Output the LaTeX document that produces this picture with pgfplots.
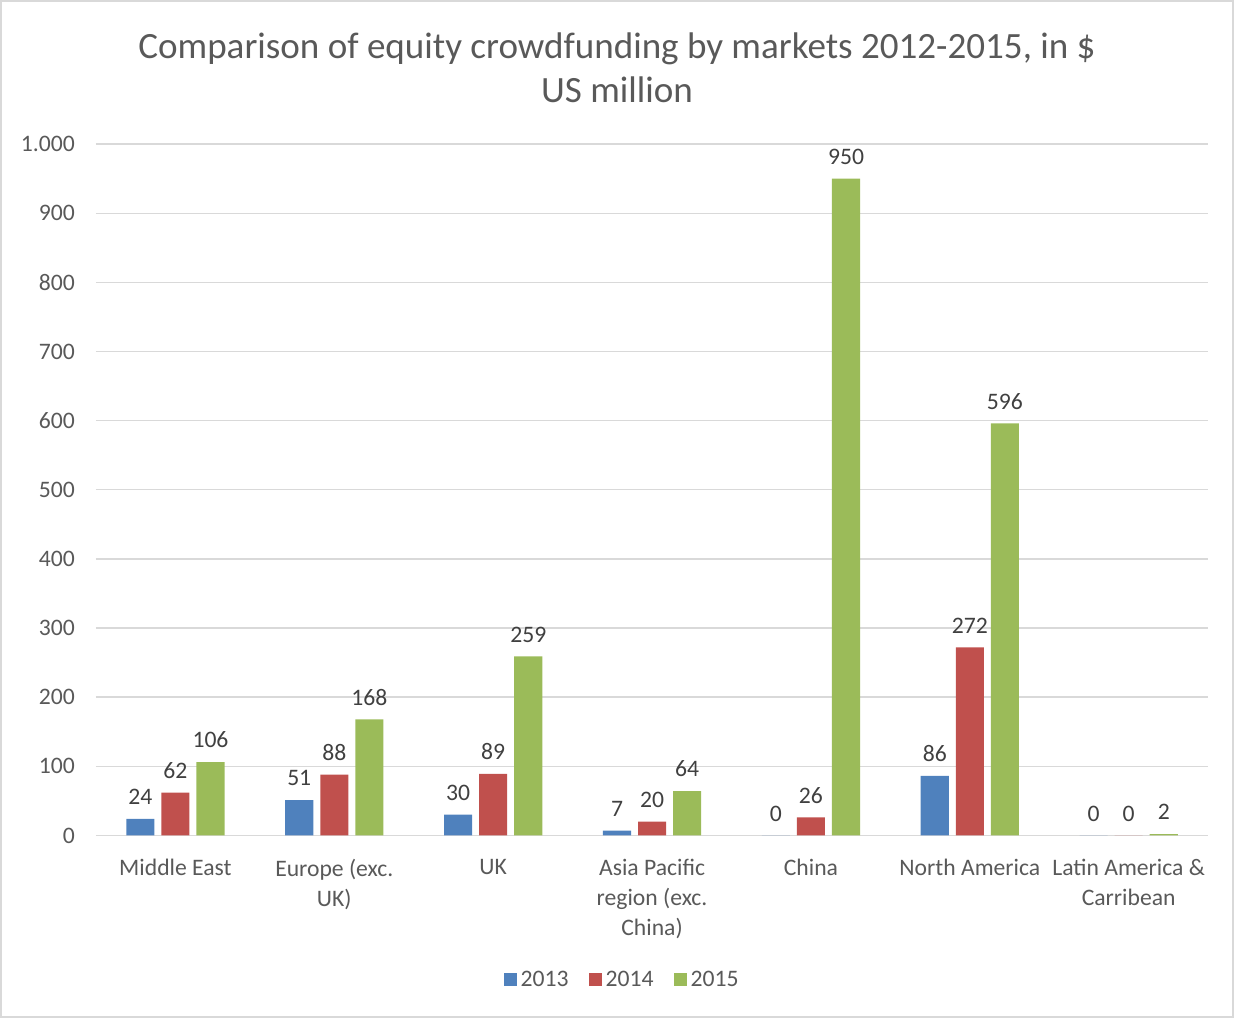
\documentclass[border=0pt]{standalone}
\usepackage{pgfplots}
\pgfplotsset{compat=1.18}
\usepackage{fontspec}
\setmainfont{Carlito}
\definecolor{b1}{HTML}{4F81BD}
\definecolor{r1}{HTML}{C0504D}
\definecolor{g1}{HTML}{9BBB59}
\definecolor{txt}{HTML}{595959}
\definecolor{lab}{HTML}{404040}
\definecolor{gridc}{HTML}{D9D9D9}
\begin{document}
\begin{tikzpicture}
\draw[gridc, line width=0.8pt] (-47.5pt,-90.5pt) rectangle (567.5pt,416.5pt);
\node[align=center, text=txt, font=\fontsize{18.5}{22}\selectfont] at (260pt,383pt)
  {Comparison of equity crowdfunding by markets 2012-2015, in \$\\US million};
\begin{axis}[
  scale only axis, width=555pt, height=345pt,
  ybar=3.5pt, bar width=14pt,
  xmin=-0.5, xmax=6.5, ymin=0, ymax=1000,
  xtick={0,1,2,3,4,5,6},
  xticklabels={Middle East, {Europe (exc.\\UK)}, UK, {Asia Pacific\\region (exc.\\China)}, China, North America, {Latin America \&\\Carribean}},
  xticklabel style={align=center, text=txt, font=\fontsize{11.8}{15}\selectfont, yshift=-4pt},
  ytick={0,100,...,1000},
  yticklabel style={text=txt, font=\fontsize{11.8}{14}\selectfont, xshift=-7pt},
  /pgf/number format/1000 sep={.},
  /pgf/number format/assume math mode=true,
  ymajorgrids, grid style={gridc, line width=0.7pt},
  axis x line*=bottom, axis y line*=left,
  y axis line style={draw=none},
  x axis line style={draw=gridc, line width=0.8pt},
  tick style={draw=none},
  nodes near coords,
  every node near coord/.append style={text=lab, font=\fontsize{11.8}{14}\selectfont, yshift=3.5pt},
  legend style={at={(0.474,-0.209)}, anchor=center, legend columns=-1, draw=none,
    font=\fontsize{11.8}{14}\selectfont, text=txt,
    /tikz/every even column/.append style={column sep=8pt}},
  legend image code/.code={\fill[#1,draw=none] (0pt,-3.2pt) rectangle (6.5pt,3.2pt);},
]
\addplot[fill=b1, draw=none] coordinates {(0,24) (1,51) (2,30) (3,7) (4,0) (5,86) (6,0)};
\addplot[fill=r1, draw=none] coordinates {(0,62) (1,88) (2,89) (3,20) (4,26) (5,272) (6,0)};
\addplot[fill=g1, draw=none] coordinates {(0,106) (1,168) (2,259) (3,64) (4,950) (5,596) (6,2)};
\legend{2013,2014,2015}
\end{axis}
\end{tikzpicture}
\end{document}
